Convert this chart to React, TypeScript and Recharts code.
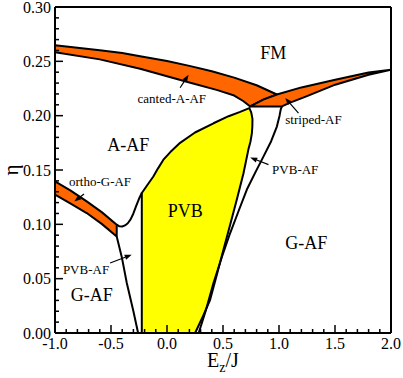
import { Scatter, ScatterChart, XAxis, YAxis } from 'recharts'

const ORANGE = '#ff6600'
const YELLOW = '#ffff00'
const SERIF = '"Liberation Serif", "Times New Roman", serif'

const xMajor = [-1.0, -0.5, 0.0, 0.5, 1.0, 1.5, 2.0]
const yMajor = [0.0, 0.05, 0.1, 0.15, 0.2, 0.25, 0.3]

function minorTicks(lo: number, hi: number, step: number) {
  const out: number[] = []
  const n = Math.round((hi - lo) / step)
  for (let i = 0; i <= n; i++) out.push(Math.round((lo + i * step) * 1000) / 1000)
  return out
}
const xTicks = minorTicks(-1, 2, 0.1)
const yTicks = minorTicks(0, 0.3, 0.01)

// region outlines as [E_z/J, eta]
const cantedBand = [
  [-1.0, 0.2647], [-0.8, 0.2625], [-0.6, 0.2602], [-0.4, 0.2577], [-0.24, 0.2546], [0.0, 0.2503],
  [0.2, 0.2458], [0.4, 0.2408], [0.6, 0.2350], [0.8, 0.2280], [0.981, 0.2195],
  [0.86, 0.2148], [0.743, 0.2085],
  [0.68, 0.2135], [0.6, 0.2185], [0.45, 0.2235], [0.2, 0.2305], [-0.24, 0.2432], [-0.6, 0.2518], [-1.0, 0.2583],
]
const stripedBand = [
  [0.743, 0.2085], [0.86, 0.2148], [0.981, 0.2195], [1.2, 0.2260], [1.502, 0.2330], [1.8, 0.2398], [2.0, 0.2423],
  [1.8, 0.2377], [1.502, 0.2285], [1.25, 0.2180], [1.1, 0.2120], [1.026, 0.2085],
]
const orthoBand = [
  [-1.0, 0.1395], [-0.86, 0.1310], [-0.717, 0.1211], [-0.58, 0.1110], [-0.449, 0.0997],
  [-0.449, 0.0889], [-0.58, 0.1002], [-0.717, 0.1104], [-0.86, 0.1190], [-1.0, 0.1273],
]
const pvbRegion = [
  [-0.225, 0.0], [-0.225, 0.1288], [-0.18, 0.1355], [-0.122, 0.144], [-0.08, 0.1515], [-0.032, 0.1595],
  [0.03, 0.1665], [0.117, 0.175], [0.25, 0.1845], [0.415, 0.193], [0.55, 0.1995], [0.653, 0.2035],
  [0.735, 0.207], [0.752, 0.203], [0.763, 0.197], [0.762, 0.19], [0.758, 0.184], [0.745, 0.176],
  [0.727, 0.169], [0.683, 0.147], [0.624, 0.123], [0.565, 0.1], [0.504, 0.0766], [0.445, 0.0535],
  [0.385, 0.0306], [0.315, 0.014], [0.251, 0.0],
]
// plain phase boundaries
const aafGafLine = [
  [-0.449, 0.0997], [-0.425, 0.0982], [-0.4, 0.098], [-0.375, 0.099], [-0.35, 0.101], [-0.325, 0.1045],
  [-0.3, 0.11], [-0.275, 0.117], [-0.25, 0.1235], [-0.225, 0.1288],
]
const leftPvbAfLine = [[-0.449, 0.0889], [-0.404, 0.07], [-0.359, 0.046], [-0.3, 0.02], [-0.258, 0.0]]
const rightPvbAfLine = [
  [0.283, 0.0], [0.35, 0.022], [0.415, 0.046], [0.49, 0.07], [0.564, 0.092], [0.64, 0.1125], [0.713, 0.132],
  [0.79, 0.148], [0.862, 0.1625], [0.93, 0.1765], [0.981, 0.19], [1.005, 0.2], [1.015, 0.2055], [1.026, 0.2085],
]

const phaseLabels = [
  { x: 0.948, y: 0.258, text: 'FM' },
  { x: -0.345, y: 0.1733, text: 'A-AF' },
  { x: 0.162, y: 0.1128, text: 'PVB' },
  { x: 1.243, y: 0.0831, text: 'G-AF' },
  { x: -0.672, y: 0.0352, text: 'G-AF' },
]
const noteLabels = [
  { x: 0.043, y: 0.2163, text: 'canted-A-AF' },
  { x: 1.308, y: 0.1963, text: 'striped-AF' },
  { x: 1.145, y: 0.1503, text: 'PVB-AF' },
  { x: -0.598, y: 0.1395, text: 'ortho-G-AF' },
  { x: -0.723, y: 0.0589, text: 'PVB-AF' },
]
// tail -> head
const arrows = [
  [[0.117, 0.2257], [0.193, 0.2377]],
  [[1.174, 0.2024], [1.055, 0.2163]],
  [[0.906, 0.1549], [0.743, 0.1615]],
  [[-0.741, 0.128], [-0.828, 0.121]],
  [[-0.508, 0.0644], [-0.315, 0.072]],
]

const pts = (a: number[][]) => a.map(([x, y]) => ({ x, y }))
const toPath = (points: { x: number; y: number }[]) => 'M' + points.map(q => `${q.x},${q.y}`).join('L')

const noDot = () => <g />

const polygon = (fill: string) => (p: any) => (
  <path d={toPath(p.points) + 'Z'} fill={fill} stroke="#000" strokeWidth={2} strokeLinejoin="round" />
)
const polyline = (p: any) => (
  <path d={toPath(p.points)} fill="none" stroke="#000" strokeWidth={2} strokeLinejoin="round" />
)
const arrowLine = (p: any) => {
  const [a, b] = p.points
  const ang = Math.atan2(b.y - a.y, b.x - a.x)
  const c = Math.cos(ang), s = Math.sin(ang)
  const bx = b.x - 7 * c, by = b.y - 7 * s
  return (
    <g>
      <line x1={a.x} y1={a.y} x2={bx} y2={by} stroke="#000" strokeWidth={1.2} />
      <path d={`M${b.x},${b.y}L${bx + 2.6 * s},${by - 2.6 * c}L${bx - 2.6 * s},${by + 2.6 * c}Z`} fill="#000" />
    </g>
  )
}

const textShape = (size: number) => (p: any) => (
  <text x={p.cx} y={p.cy} dy="0.35em" textAnchor="middle" fontSize={size} fontFamily={SERIF} fill="#000">
    {p.payload.text}
  </text>
)

const isMajor = (list: number[], v: number) => list.some(m => Math.abs(m - v) < 1e-6)

const xTick = (side: 'bottom' | 'top', withLabel: boolean) => (p: any) => {
  const v = p.payload.value
  const major = isMajor(xMajor, v)
  const d = side === 'bottom' ? -1 : 1
  return (
    <g>
      <line x1={p.x} x2={p.x} y1={p.y} y2={p.y + d * (major ? 8 : 4)} stroke="#000" strokeWidth={1.5} />
      {withLabel && major && (
        <text x={p.x} y={p.y + 16} textAnchor="middle" fontSize={16} fontFamily={SERIF} fill="#000">
          {v.toFixed(1)}
        </text>
      )}
    </g>
  )
}

const yTick = (side: 'left' | 'right', withLabel: boolean) => (p: any) => {
  const v = p.payload.value
  const major = isMajor(yMajor, v)
  const d = side === 'left' ? 1 : -1
  return (
    <g>
      <line x1={p.x} x2={p.x + d * (major ? 8 : 4)} y1={p.y} y2={p.y} stroke="#000" strokeWidth={1.5} />
      {withLabel && major && (
        <text x={p.x - 4} y={p.y} dy="0.35em" textAnchor="end" fontSize={16} fontFamily={SERIF} fill="#000">
          {v.toFixed(2)}
        </text>
      )}
    </g>
  )
}

const xTitle = (p: any) => {
  const vb = p.viewBox
  return (
    <text x={vb.x + vb.width / 2} y={vb.y + 34} textAnchor="middle" fontSize={20} fontFamily={SERIF} fill="#000">
      E<tspan fontSize={14} dy={5}>z</tspan><tspan dy={-5}>/J</tspan>
    </text>
  )
}
const yTitle = (p: any) => {
  const vb = p.viewBox
  const cx = vb.x + vb.width - 43
  const cy = vb.y + vb.height / 2
  return (
    <text x={cx} y={cy} dy="0.3em" textAnchor="middle" fontSize={21} fontFamily={SERIF} fill="#000"
      transform={`rotate(-90 ${cx} ${cy})`}>
      η
    </text>
  )
}

const axisLine = { stroke: '#000', strokeWidth: 2 }

export default function App() {
  return (
    <div style={{ position: 'absolute', left: 0, top: 0, background: '#fff' }}>
      <ScatterChart width={403} height={378} margin={{ top: 6, right: 11, bottom: 44, left: 54 }}>
        <XAxis type="number" dataKey="x" domain={[-1, 2]} ticks={xTicks} interval={0} height={1}
          tickSize={0} tickMargin={0} tickLine={false} axisLine={axisLine} tick={xTick('bottom', true)}
          label={{ content: xTitle }} allowDataOverflow />
        <XAxis xAxisId="top" orientation="top" type="number" domain={[-1, 2]} ticks={xTicks} interval={0}
          height={1} tickSize={0} tickMargin={0} tickLine={false} axisLine={axisLine} tick={xTick('top', false)} />
        <YAxis type="number" dataKey="y" domain={[0, 0.3]} ticks={yTicks} interval={0} width={1}
          tickSize={0} tickMargin={0} tickLine={false} axisLine={axisLine} tick={yTick('left', true)}
          label={{ content: yTitle }} allowDataOverflow />
        <YAxis yAxisId="right" orientation="right" type="number" domain={[0, 0.3]} ticks={yTicks} interval={0}
          width={1} tickSize={0} tickMargin={0} tickLine={false} axisLine={axisLine} tick={yTick('right', false)} />

        <Scatter data={pts(pvbRegion)} shape={noDot} line={polygon(YELLOW)} isAnimationActive={false} />
        <Scatter data={pts(cantedBand)} shape={noDot} line={polygon(ORANGE)} isAnimationActive={false} />
        <Scatter data={pts(stripedBand)} shape={noDot} line={polygon(ORANGE)} isAnimationActive={false} />
        <Scatter data={pts(orthoBand)} shape={noDot} line={polygon(ORANGE)} isAnimationActive={false} />
        <Scatter data={pts(aafGafLine)} shape={noDot} line={polyline} isAnimationActive={false} />
        <Scatter data={pts(leftPvbAfLine)} shape={noDot} line={polyline} isAnimationActive={false} />
        <Scatter data={pts(rightPvbAfLine)} shape={noDot} line={polyline} isAnimationActive={false} />
        {arrows.map((a, i) => (
          <Scatter key={i} data={pts(a)} shape={noDot} line={arrowLine} isAnimationActive={false} />
        ))}
        <Scatter data={phaseLabels} shape={textShape(18)} isAnimationActive={false} />
        <Scatter data={noteLabels} shape={textShape(13)} isAnimationActive={false} />
      </ScatterChart>
    </div>
  )
}
